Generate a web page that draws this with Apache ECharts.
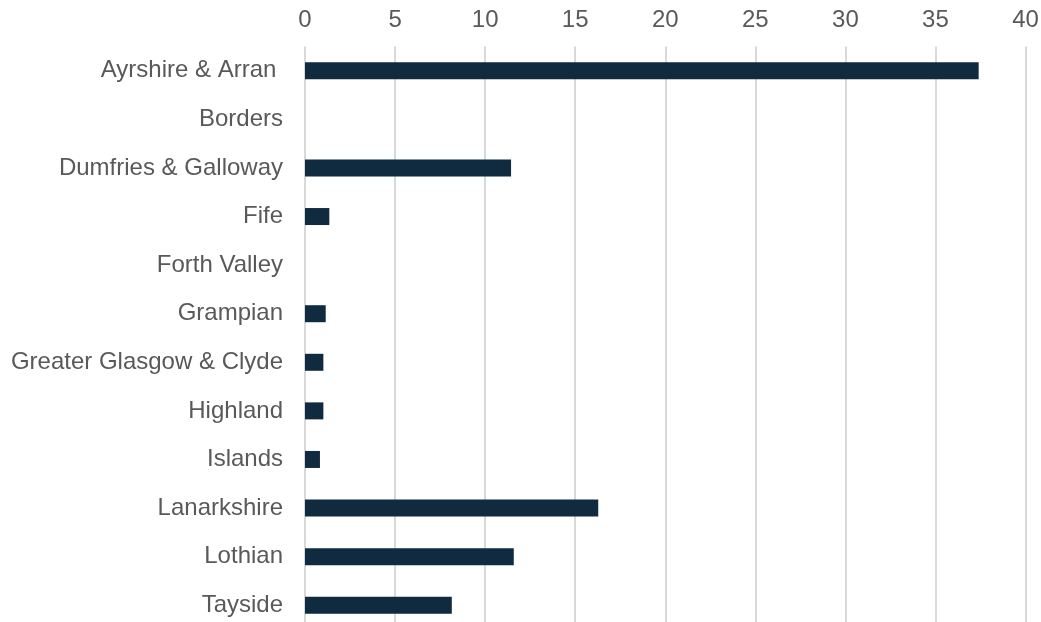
<!DOCTYPE html>
<html>
<head>
<meta charset="utf-8">
<script src="https://cdn.jsdelivr.net/npm/echarts@6/dist/echarts.min.js"></script>
<style>html,body{margin:0;padding:0;background:#fff;}#c{width:1041px;height:622px;}</style>
</head>
<body>
<div id="c"></div>
<script>
const categories = ["Ayrshire & Arran ", "Borders", "Dumfries & Galloway", "Fife", "Forth Valley", "Grampian", "Greater Glasgow & Clyde", "Highland", "Islands", "Lanarkshire", "Lothian", "Tayside"];
const values = [37.4, 0, 11.44, 1.35, 0, 1.15, 1.02, 1.02, 0.83, 16.28, 11.59, 8.15];

const chart = echarts.init(document.getElementById('c'));
chart.setOption({
  animation: false,
  backgroundColor: '#ffffff',
  grid: { left: 305, right: 15.5, top: 46.5, height: 583, containLabel: false, outerBoundsMode: 'none' },
  xAxis: {
    type: 'value', position: 'top', min: 0, max: 40, interval: 5,
    axisLine: { show: false }, axisTick: { show: false },
    axisLabel: { color: '#595959', fontSize: 24, fontFamily: 'Liberation Sans, Arial, sans-serif', margin: 14.5 },
    splitLine: { show: true, lineStyle: { color: '#d9d9d9', width: 2 } }
  },
  yAxis: {
    type: 'category', data: categories, inverse: true,
    axisLine: { show: false }, axisTick: { show: false },
    axisLabel: { color: '#595959', fontSize: 24, fontFamily: 'Liberation Sans, Arial, sans-serif', margin: 22 }
  },
  series: [{
    type: 'bar', data: values, barWidth: 17,
    itemStyle: { color: '#102a3f' }
  }]
});
</script>
</body>
</html>
